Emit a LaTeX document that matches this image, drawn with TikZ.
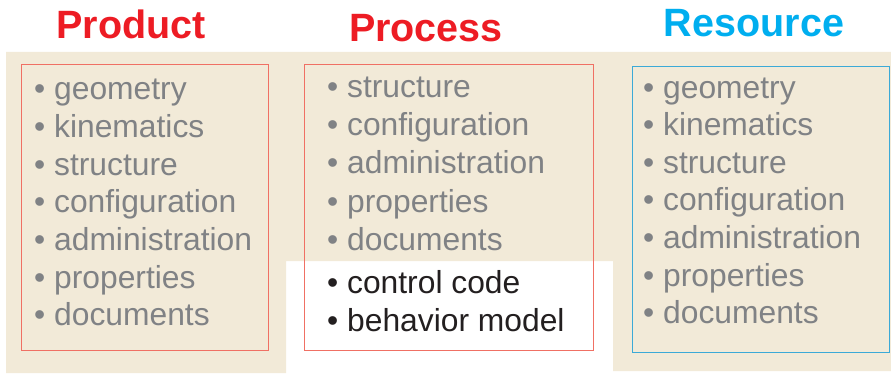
\documentclass[tikz,border=0pt]{standalone}
\usepackage{fontspec}
\setmainfont{Liberation Sans}
\definecolor{panelbg}{RGB}{242,234,216}
\definecolor{titlered}{RGB}{237,28,36}
\definecolor{titleblue}{RGB}{0,174,239}
\definecolor{boxred}{RGB}{240,112,100}
\definecolor{boxblue}{RGB}{60,170,215}
\definecolor{itemgray}{RGB}{128,130,133}
\definecolor{itemblack}{RGB}{35,31,32}
\tikzset{
  title/.style={anchor=base, inner sep=0pt, font=\fontsize{39.5}{39.5}\selectfont\bfseries},
  item/.style={anchor=base west, inner sep=0pt, text=itemgray, font=\fontsize{31.8}{31.8}\selectfont},
  newitem/.style={item, text=itemblack},
  frame/.style={line width=1pt},
}
\begin{document}
\begin{tikzpicture}[x=1pt, y=-1pt]
  \useasboundingbox (0,0) rectangle (891,374);
  % shaded panel behind the three columns, open under the process extras
  \fill[panelbg] (6,52) -- (891,52) -- (891,371) -- (613,371) -- (613,261)
    -- (286,261) -- (286,373) -- (6,373) -- cycle;

  % column frames
  \draw[frame, boxred]  (21,64.5)  rectangle (268,350);
  \draw[frame, boxred]  (304,65)   rectangle (593,350);
  \draw[frame, boxblue] (632,66.5) rectangle (889,352);

  % column titles
  \node[title, text=titlered]  (tprod) at (131,39) {Product};
  \node[title, text=titlered]  (tproc) at (426,42) {Process};
  \node[title, text=titleblue] (tres)  at (754,37) {Resource};

  % product aspects
  \foreach \t [count=\i from 0] in {geometry,kinematics,structure,configuration,administration,properties,documents}
    \node[item] (prod\i) at (34,100+37.6*\i) {• \t};

  % process aspects
  \foreach \t [count=\i from 0] in {structure,configuration,administration,properties,documents}
    \node[item] (proc\i) at (327,97.5+38.2*\i) {• \t};
  \node[newitem] (proc5) at (327,293) {• control code};
  \node[newitem] (proc6) at (327,331) {• behavior model};

  % resource aspects
  \foreach \t [count=\i from 0] in {geometry,kinematics,structure,configuration,administration,properties,documents}
    \node[item] (res\i) at (643,98.5+37.5*\i) {• \t};
\end{tikzpicture}
\end{document}
